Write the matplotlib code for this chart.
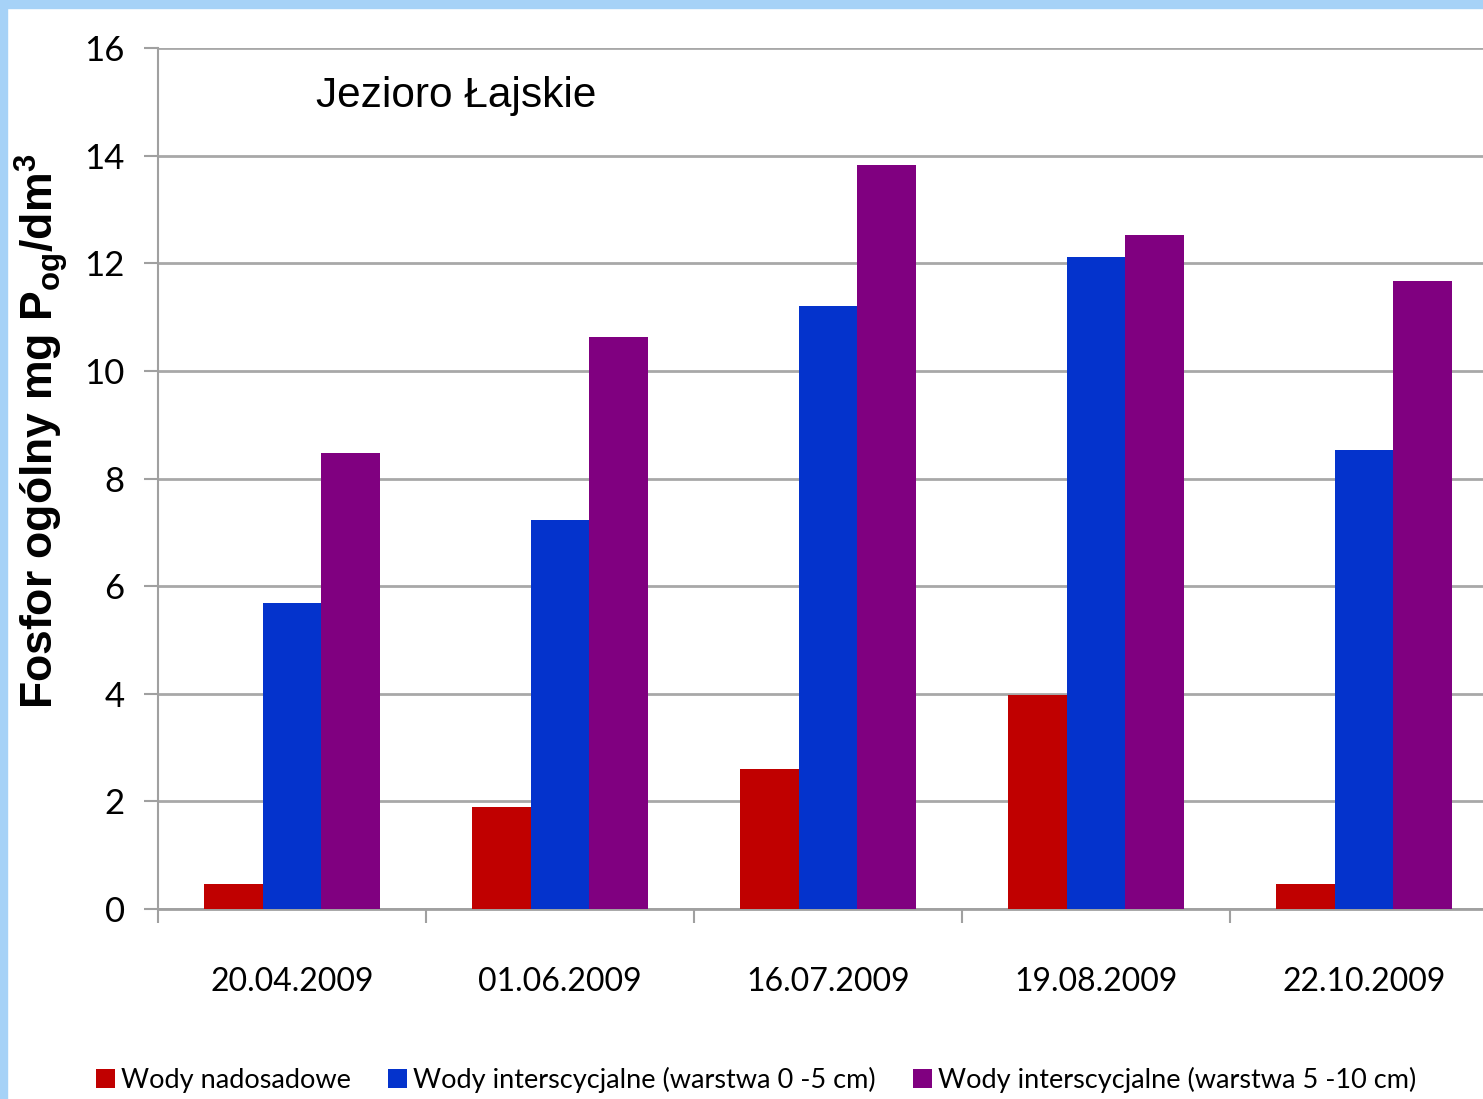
import matplotlib
matplotlib.use('Agg')
import matplotlib.pyplot as plt
from matplotlib.patches import Rectangle
import numpy as np

# --- data ---
dates = ['20.04.2009', '01.06.2009', '16.07.2009', '19.08.2009', '22.10.2009']
nadosadowe = [0.46, 1.90, 2.60, 3.98, 0.46]
inter_0_5 = [5.69, 7.23, 11.21, 12.12, 8.53]
inter_5_10 = [8.48, 10.63, 13.83, 12.53, 11.67]
series_names = ['Wody nadosadowe',
                'Wody interscycjalne (warstwa 0 -5 cm)',
                'Wody interscycjalne (warstwa 5 -10 cm)']
colors = ['#C00000', '#0433CC', '#800080']

narrow = ['Lato', 'DejaVu Sans']

plt.rcParams['mathtext.fontset'] = 'custom'
plt.rcParams['mathtext.rm'] = 'Liberation Sans'
plt.rcParams['mathtext.bf'] = 'Liberation Sans:bold'

fig = plt.figure(figsize=(14.83, 10.99), dpi=100)

# light blue slide frame (top and left edges)
fig.patches.append(Rectangle((0, 1 - 8 / 1099), 1, 8 / 1099, transform=fig.transFigure,
                             color='#a6d2f7', zorder=0))
fig.patches.append(Rectangle((0, 0), 7 / 1483, 1, transform=fig.transFigure,
                             color='#a6d2f7', zorder=0))

# axes runs a bit past the right edge, like the cropped original
ax = fig.add_axes([158 / 1483, 190 / 1099, 1340 / 1483, 861 / 1099])

x = np.arange(len(dates))
w = 0.22
for k, vals in enumerate([nadosadowe, inter_0_5, inter_5_10]):
    ax.bar(x + (k - 1) * w, vals, width=w, color=colors[k], label=series_names[k], zorder=3)

ax.set_xlim(-0.5, len(dates) - 0.5)
ax.set_ylim(0, 16)
ax.set_yticks(range(0, 17, 2))
ax.yaxis.grid(True, color='#a8a8a8', linewidth=2, zorder=0)

for s in ['top', 'right']:
    ax.spines[s].set_visible(False)
ax.spines['left'].set_color('#a0a0a0')
ax.spines['left'].set_linewidth(1.5)
ax.spines['bottom'].set_color('#a0a0a0')
ax.spines['bottom'].set_linewidth(2)

ax.set_xticks(x)
ax.set_xticklabels(dates, fontsize=23, family=narrow)
ax.set_xticks(np.arange(-0.5, len(dates), 1), minor=True)
ax.tick_params(axis='x', which='major', length=0, pad=42)
ax.tick_params(axis='x', which='minor', length=10, width=1.5, color='#a0a0a0')
ax.tick_params(axis='y', length=10, width=1.5, color='#a0a0a0', pad=14, labelsize=25)
for lab in ax.get_yticklabels():
    lab.set_family(narrow)

ax.set_ylabel(r'Fosfor ogólny mg P$_\mathbf{og}$/dm$^\mathbf{3}$',
              fontsize=32, fontweight='bold', family='Liberation Sans')
# label sits above the axis middle in the original
ax.yaxis.set_label_coords(-0.066, 0.555)

fig.text(316 / 1483, 1 - 96 / 1099, 'Jezioro Łajskie', fontsize=30.5,
         family='Liberation Sans', va='center', ha='left')

handles, labels = ax.get_legend_handles_labels()
fig.legend(handles, labels, loc='center', bbox_to_anchor=(756 / 1483, 19 / 1099),
           ncol=3, frameon=False, prop={'family': narrow, 'size': 19.5},
           handlelength=0.7, handleheight=0.7, handletextpad=0.2, columnspacing=1.4)

fig.savefig('out.png', dpi=100)
